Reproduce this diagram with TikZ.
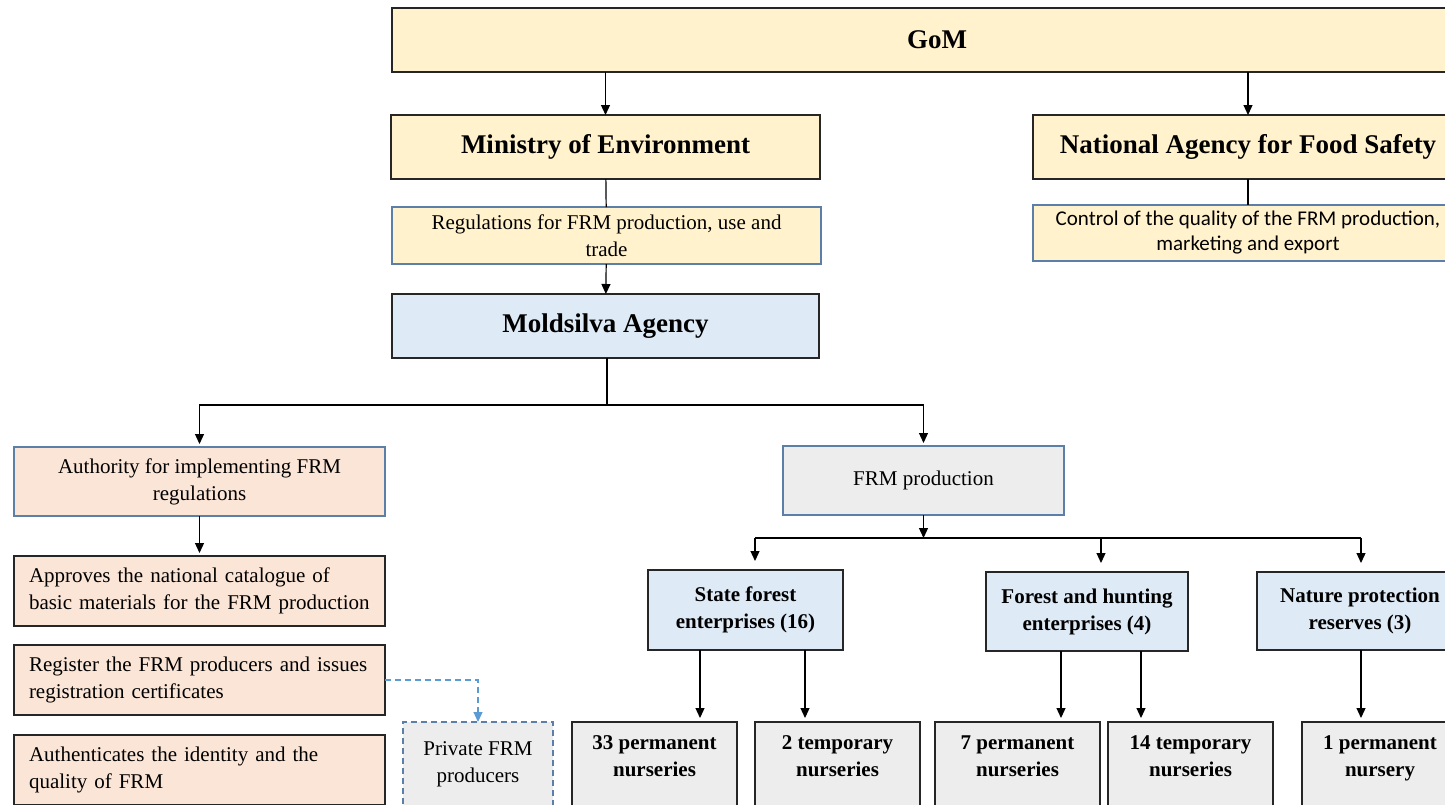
\documentclass[tikz,border=0pt]{standalone}
\usepackage{fontspec}
\setmainfont{Liberation Serif}
\newfontfamily\calibrifont{Carlito}
\usetikzlibrary{arrows.meta,positioning}
\definecolor{headY}{HTML}{FFF2CC}
\definecolor{agencyB}{HTML}{DEEBF7}
\definecolor{taskP}{HTML}{FBE5D6}
\definecolor{prodG}{HTML}{EDEDED}
\definecolor{edgeB}{HTML}{5B7FA8}
\definecolor{dashB}{HTML}{5B9BD5}
\definecolor{edgeK}{HTML}{262626}

\begin{document}
\begin{tikzpicture}[x=0.5pt,y=-0.5pt,
	>={Triangle[length=5pt,width=4.5pt]},
	BaseBox/.style={draw, line width=0.8pt, inner sep=3pt, outer sep=0pt, align=center},
	HeadBox/.style={BaseBox, draw=edgeK, fill=headY, minimum height=32pt,
		font=\bfseries\fontsize{13.5}{16}\selectfont},
	NoteBox/.style={BaseBox, draw=edgeB, fill=headY, minimum width=214.5pt,
		font=\fontsize{10.5}{13.5}\selectfont},
	TaskBox/.style={BaseBox, draw=edgeK, fill=taskP, minimum height=35pt, inner xsep=7.5pt,
		text width=170.5pt, align=left, font=\fontsize{10.5}{13.5}\selectfont},
	UnitBox/.style={BaseBox, draw=edgeK, fill=agencyB, font=\bfseries\fontsize{10.5}{13.5}\selectfont},
	LeafBox/.style={BaseBox, draw=edgeK, fill=prodG, anchor=north, inner ysep=4.5pt,
		text height=9pt, text depth=42pt, font=\bfseries\fontsize{10.5}{13.5}\selectfont},
	]
	\useasboundingbox (0,0) rectangle (1445,804);
	% government level
	\node [HeadBox, minimum width=545pt] (gom) at (937,40) {GoM};
	\node [HeadBox, minimum width=214.5pt] (minenv) at (605.5,147) {Ministry of Environment};
	\node [HeadBox, minimum width=215pt] (nafs) at (1248,147) {National Agency for Food Safety};
	\node [NoteBox, minimum height=28.5pt] (regul) at (606.5,235.5) {Regulations for FRM production, use and\\trade};
	\node [NoteBox, minimum width=215pt, minimum height=28pt,
		font=\calibrifont\fontsize{10.5}{12.5}\selectfont] (control) at (1248,233)
		{Control of the quality of the FRM production,\\marketing and export};
	\node [HeadBox, fill=agencyB, minimum width=213.5pt] (moldsilva) at (605.5,326) {Moldsilva Agency};
	
	% authority branch
	\node [BaseBox, draw=edgeB, fill=taskP, minimum width=185.5pt, minimum height=34.5pt,
		font=\fontsize{10.5}{13.5}\selectfont] (authority) at (199.5,481.5) {Authority for implementing FRM\\regulations};
	\node [TaskBox] (approves) at (199.5,591) {Approves the national catalogue of\\basic materials for the FRM production};
	\node [TaskBox] (register) at (199.5,680) {Register the FRM producers and issues\\registration certificates};
	\node [TaskBox] (authent) at (199.5,770) {Authenticates the identity and the\\quality of FRM};
	\node [BaseBox, draw=edgeB, dash pattern=on 3pt off 2pt, fill=prodG, minimum width=75pt, minimum height=42pt,
		font=\fontsize{10.5}{13.5}\selectfont] (private) at (478,764) {Private FRM\\producers};
	
	% production branch
	\node [BaseBox, draw=edgeB, fill=prodG, minimum width=140.5pt, minimum height=34.5pt,
		font=\fontsize{10.5}{13.5}\selectfont] (frmprod) at (923.5,480.5) {FRM production};
	\node [UnitBox, minimum width=97.5pt, minimum height=40pt] (statefe) at (745.5,610) {State forest\\enterprises (16)};
	\node [UnitBox, minimum width=101pt, minimum height=39.5pt] (foresth) at (1087,611.5) {Forest and hunting\\enterprises (4)};
	\node [UnitBox, minimum width=103pt, minimum height=39pt] (naturep) at (1360,611) {Nature protection\\reserves (3)};
	\node [LeafBox, minimum width=82.5pt] (n33) at (654.5,722) {\begin{tabular}[t]{@{}c@{}}33 permanent\\nurseries\end{tabular}};
	\node [LeafBox, minimum width=82.5pt] (t2) at (837.5,722) {\begin{tabular}[t]{@{}c@{}}2 temporary\\nurseries\end{tabular}};
	\node [LeafBox, minimum width=82.5pt] (n7) at (1017.5,722) {\begin{tabular}[t]{@{}c@{}}7 permanent\\nurseries\end{tabular}};
	\node [LeafBox, minimum width=82.5pt] (t14) at (1190.5,722) {\begin{tabular}[t]{@{}c@{}}14 temporary\\nurseries\end{tabular}};
	\node [LeafBox, minimum width=78pt] (n1) at (1380,722) {\begin{tabular}[t]{@{}c@{}}1 permanent\\nursery\end{tabular}};
	
	\coordinate (forkM) at (607,405);
	\coordinate (forkP) at (923.5,538);
	\coordinate (bS) at (755,538);
	\coordinate (bF) at (1101,538);
	\coordinate (bN) at (1361,538);
	\coordinate (lA) at (700,0);
	\coordinate (lB) at (805,0);
	\coordinate (lC) at (1061,0);
	\coordinate (lD) at (1141,0);
	\coordinate (lE) at (1361,0);
	
	\begin{scope}[line width=0.6pt]
	\draw [->] (minenv.north |- gom.south) -- (minenv.north);
	\draw [->] (nafs.north |- gom.south) -- (nafs.north);
	\draw (minenv) -- (regul);
	\draw (nafs) -- (control);
	\draw [->] (regul) -- (moldsilva);
	\draw (moldsilva.south -| forkM) -- (forkM);
	\draw [->, shorten >=1.5pt] (forkM) -| (authority.north);
	\draw [->, shorten >=1.5pt] (forkM) -| (frmprod.north);
	\draw [->, shorten >=1.5pt] (authority) -- (approves);
	\draw [->] (frmprod.south) -- (forkP);
	\draw (bS) -- (bN);
	\foreach \b/\n in {bS/statefe, bF/foresth, bN/naturep}
		\draw [->, shorten >=4.5pt] (\b) -- (\b |- \n.north);
	\foreach \c/\from/\to in {lA/statefe/n33, lB/statefe/t2, lC/foresth/n7, lD/foresth/t14, lE/naturep/n1}
		\draw [->, shorten >=2pt] (\from.south -| \c) -- (\to.north -| \c);
	\draw [->, dashB, dash pattern=on 3pt off 2pt] (register.east) -| (private.north);
	\end{scope}
\end{tikzpicture}
\end{document}
